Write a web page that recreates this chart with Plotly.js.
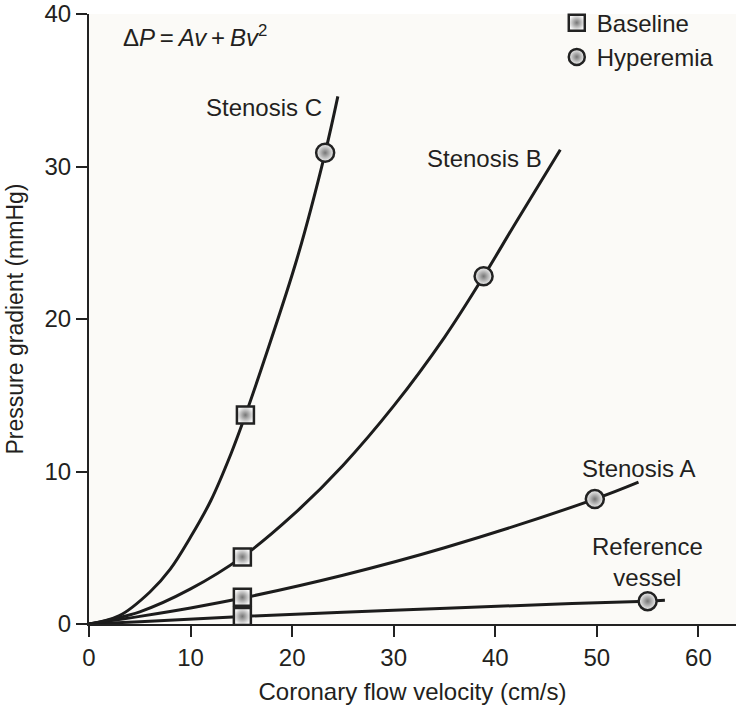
<!DOCTYPE html>
<html>
<head>
<meta charset="utf-8">
<script src="https://cdn.plot.ly/plotly-3.0.1.min.js"></script>
<style>html,body{margin:0;padding:0;background:#fff;}#chart{width:736px;height:713px;}</style>
</head>
<body>
<div id="chart"></div>
<script>
// Curves (velocity cm/s, pressure gradient mmHg)
const refV   = [0, 5, 15.1, 30, 45, 55, 56.7];
const refP   = [0, 0.15, 0.5, 0.9, 1.28, 1.5, 1.55];
const stenAV = [0, 5, 10, 15.1, 25, 35, 49.8, 54.1];
const stenAP = [0, 0.5, 1.05, 1.7, 3.2, 5.0, 8.19, 9.3];
const stenBV = [0, 5, 10, 15.1, 20, 25, 30, 35, 38.85, 42, 46.4];
const stenBP = [0, 0.8, 2.3, 4.4, 7.1, 10.4, 14.3, 18.8, 22.8, 26.3, 31.1];
const stenCV = [0, 3, 6, 8, 10, 12, 14, 15.4, 17.2, 20.5, 23.25, 24.5];
const stenCP = [0, 0.55, 2.1, 3.6, 5.7, 8.1, 11.2, 13.7, 17.2, 24.0, 30.9, 34.6];

// Measured points
const baselineV  = [15.1, 15.1, 15.1, 15.4];
const baselineP  = [0.5, 1.75, 4.4, 13.7];
const hyperemiaV = [55.0, 49.8, 38.85, 23.25];
const hyperemiaP = [1.5, 8.19, 22.8, 30.9];

const seriesNames = ['Baseline', 'Hyperemia'];
const xTicks = [0, 10, 20, 30, 40, 50, 60];
const yTicks = [0, 10, 20, 30, 40];

const lineStyle = {color: '#1c1c1c', width: 3, shape: 'spline', smoothing: 1};
function curve(x, y) {
  return {x: x, y: y, mode: 'lines', line: lineStyle, showlegend: false, hoverinfo: 'skip'};
}
const mk = {
  color: '#f6f6f6',
  gradient: {type: 'radial', color: '#767676'},
  line: {color: '#222', width: 2.5}
};

const data = [
  curve(refV, refP), curve(stenAV, stenAP), curve(stenBV, stenBP), curve(stenCV, stenCP),
  {x: baselineV, y: baselineP, mode: 'markers', name: seriesNames[0],
   marker: Object.assign({}, mk, {symbol: 'square', size: 17})},
  {x: hyperemiaV, y: hyperemiaP, mode: 'markers', name: seriesNames[1],
   marker: Object.assign({}, mk, {symbol: 'circle', size: 18})}
];

const FS = 24;
const font = {family: 'Liberation Sans, Arial, sans-serif', color: '#231f20'};
function f(size) { return Object.assign({}, font, {size: size}); }
function ann(x, y, text) {
  return {x: x, y: y, xref: 'x', yref: 'y', text: text, showarrow: false,
          font: f(FS), xanchor: 'center', yanchor: 'middle'};
}

const layout = {
  width: 736, height: 713,
  margin: {l: 89, r: 0, t: 14, b: 89},
  paper_bgcolor: '#ffffff',
  plot_bgcolor: '#fbfaf7',
  font: font,
  showlegend: true,
  legend: {x: 0.723, y: 1.022, xanchor: 'left', yanchor: 'top',
           bgcolor: 'rgba(0,0,0,0)', font: f(FS),
           itemsizing: 'trace', tracegroupgap: 0},
  xaxis: {
    range: [0, 63.7], tickvals: xTicks, ticktext: xTicks.map(String),
    showgrid: false, zeroline: false, showline: true, linecolor: '#222', linewidth: 2,
    ticks: 'outside', ticklen: 11, tickwidth: 2, tickcolor: '#222',
    tickfont: f(FS), ticklabeloverflow: 'allow',
    title: {text: 'Coronary flow velocity (cm/s)', font: f(FS), standoff: 13}
  },
  yaxis: {
    range: [0, 40.001], tickvals: yTicks, ticktext: yTicks.map(String),
    showgrid: false, zeroline: false, showline: true, linecolor: '#222', linewidth: 2,
    ticks: 'outside', ticklen: 11, tickwidth: 2, tickcolor: '#222',
    tickfont: f(FS), ticklabeloverflow: 'allow',
    title: {text: 'Pressure gradient (mmHg)', font: f(23), standoff: 14}
  },
  annotations: [
    {x: 0.05, y: 0.992, xref: 'paper', yref: 'paper', xanchor: 'left', yanchor: 'top', showarrow: false,
     text: 'Δ<i>P</i>\u2009=\u2009<i>Av</i>\u2009+\u2009<i>Bv</i><sup>2</sup>', font: f(FS)},
    ann(17.2, 33.9, 'Stenosis C'),
    ann(38.97, 30.55, 'Stenosis B'),
    ann(54.1, 10.2, 'Stenosis A'),
    ann(55.0, 4.04, 'Reference<br>vessel')
  ]
};

Plotly.newPlot('chart', data, layout, {displayModeBar: false, staticPlot: true});
</script>
</body>
</html>
